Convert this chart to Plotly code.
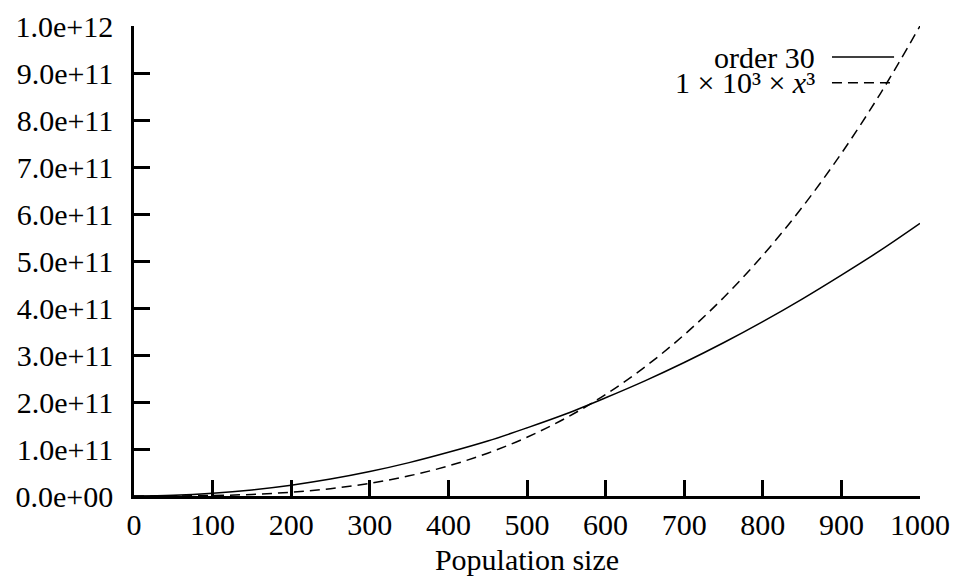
import plotly.graph_objects as go

# Population sizes sampled along the x axis
population = [0, 50, 100, 150, 200, 250, 300, 350, 400, 450, 500,
              550, 600, 650, 700, 750, 800, 850, 900, 950, 1000]

# Measured cost for the order-30 run
order30 = [0, 1.4e9, 5.8e9, 1.3e10, 2.3e10, 3.6e10, 5.2e10, 7.1e10, 9.3e10,
           1.17e11, 1.45e11, 1.75e11, 2.09e11, 2.45e11, 2.84e11, 3.26e11,
           3.71e11, 4.19e11, 4.70e11, 5.23e11, 5.80e11]

# Reference curve 1e3 * x^3
cubic_ref = [0, 1.25e8, 1.0e9, 3.375e9, 8.0e9, 1.5625e10, 2.7e10, 4.2875e10,
             6.4e10, 9.1125e10, 1.25e11, 1.66375e11, 2.16e11, 2.74625e11,
             3.43e11, 4.21875e11, 5.12e11, 6.14125e11, 7.29e11, 8.57375e11,
             1.0e12]

x_ticks = [0, 100, 200, 300, 400, 500, 600, 700, 800, 900, 1000]
y_ticks = [0, 1e11, 2e11, 3e11, 4e11, 5e11, 6e11, 7e11, 8e11, 9e11, 1e12]
y_tick_text = ["0.0e+00", "1.0e+11", "2.0e+11", "3.0e+11", "4.0e+11",
               "5.0e+11", "6.0e+11", "7.0e+11", "8.0e+11", "9.0e+11",
               "1.0e+12"]

legend_labels = ["order 30", "1 × 10³ × <i>x</i>³"]

FONT = "Liberation Serif"
FS = 30

fig = go.Figure()
fig.add_trace(go.Scatter(x=population, y=order30, mode="lines",
                         line=dict(color="black", width=1.5, shape="spline"),
                         name=legend_labels[0], showlegend=False))
fig.add_trace(go.Scatter(x=population, y=cubic_ref, mode="lines",
                         line=dict(color="black", width=1.5, dash="10px,6px",
                                   shape="spline"),
                         name=legend_labels[1], showlegend=False))

# Key: right-aligned labels with line samples to their right
key_rows = [0.934, 0.879]
key_dash = ["solid", "10px,6px"]
for label, yr, dash in zip(legend_labels, key_rows, key_dash):
    fig.add_annotation(xref="paper", yref="paper", x=0.869, y=yr,
                       xanchor="right", yanchor="middle", text=label,
                       showarrow=False, font=dict(family=FONT, size=FS, color="black"))
    fig.add_shape(type="line", xref="paper", yref="paper",
                  x0=0.888, x1=0.967, y0=yr, y1=yr,
                  line=dict(color="black", width=1.5, dash=dash))

axis_common = dict(showline=True, linecolor="black", linewidth=2.5,
                   ticks="inside", ticklen=16, tickwidth=2.5, tickcolor="black",
                   showgrid=False, zeroline=False, mirror=False,
                   tickfont=dict(family=FONT, size=FS, color="black"))

fig.update_xaxes(range=[0, 1000], tickvals=x_ticks, ticklabelstandoff=0,
                 title=dict(text="Population size", standoff=10,
                            font=dict(family=FONT, size=FS, color="black")),
                 **axis_common)
fig.update_yaxes(range=[0, 1e12], tickvals=y_ticks, ticktext=y_tick_text,
                 ticklabelstandoff=12, **axis_common)

fig.update_layout(width=953, height=576,
                  margin=dict(l=134, r=33, t=26, b=80, autoexpand=False),
                  plot_bgcolor="white", paper_bgcolor="white",
                  font=dict(family=FONT, size=FS, color="black"))

fig.write_html("out.html")
